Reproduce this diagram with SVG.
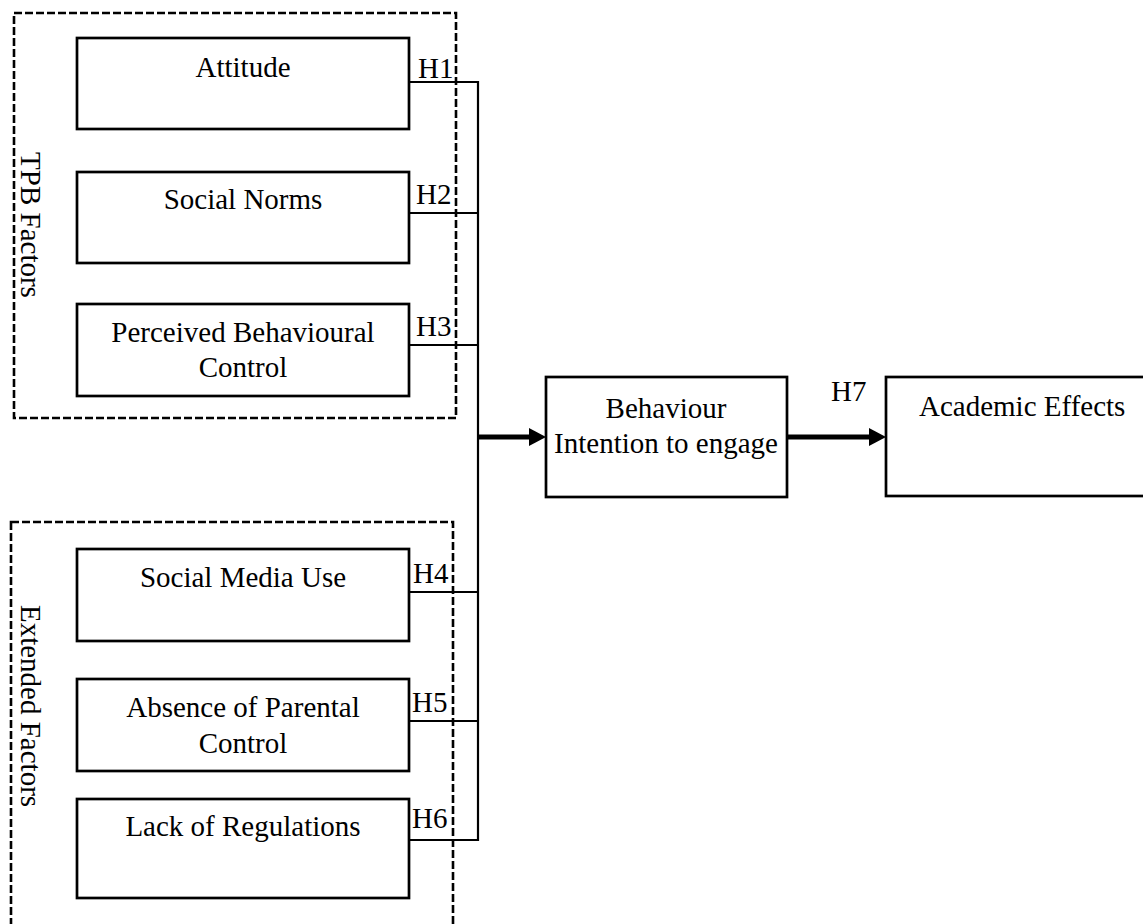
<svg xmlns="http://www.w3.org/2000/svg" width="1143" height="924" viewBox="0 0 1143 924">
<defs>
<style>
.box{fill:#fff;stroke:#000;stroke-width:2.7}
.grp{fill:none;stroke:#000;stroke-width:2.6;stroke-dasharray:8,3}
.t{font-family:"Liberation Serif","Times New Roman",serif;font-size:29px;fill:#000}
.m{text-anchor:middle}
.ln{fill:none;stroke:#000;stroke-width:2.2}
.th{fill:none;stroke:#000;stroke-width:5}
</style>
</defs>
<rect width="1143" height="924" fill="#fff"/>
<g id="group-tpb">
<rect class="grp" x="14" y="13" width="442" height="405"/>
<text class="t m" transform="translate(21,225) rotate(90)">TPB Factors</text>
</g>
<g id="group-extended">
<rect class="grp" x="11" y="522" width="442" height="420"/>
<text class="t m" transform="translate(21,706) rotate(90)">Extended Factors</text>
</g>
<g id="connectors">
<polyline class="ln" points="409,82 478,82 478,840 409,840"/>
<line class="ln" x1="409" y1="213" x2="478" y2="213"/>
<line class="ln" x1="409" y1="345" x2="478" y2="345"/>
<line class="ln" x1="409" y1="592" x2="478" y2="592"/>
<line class="ln" x1="409" y1="721" x2="478" y2="721"/>
<line class="th" x1="478" y1="437" x2="531" y2="437"/>
<polygon points="529,428 546,437 529,446" fill="#000"/>
<line class="th" x1="787" y1="437" x2="871" y2="437"/>
<polygon points="869,428 886,437 869,446" fill="#000"/>
<text class="t" x="418" y="78">H1</text>
<text class="t" x="416" y="204">H2</text>
<text class="t" x="416" y="336">H3</text>
<text class="t" x="413" y="583">H4</text>
<text class="t" x="412" y="712">H5</text>
<text class="t" x="412" y="828">H6</text>
<text class="t" x="831" y="401">H7</text>
</g>
<g id="attitude">
<rect class="box" x="77" y="38" width="332" height="91"/>
<text class="t m" x="243" y="77">Attitude</text>
</g>
<g id="social-norms">
<rect class="box" x="77" y="172" width="332" height="91"/>
<text class="t m" x="243" y="209">Social Norms</text>
</g>
<g id="pbc">
<rect class="box" x="77" y="304" width="332" height="92"/>
<text class="t m" x="243" y="342">Perceived Behavioural</text>
<text class="t m" x="243" y="377">Control</text>
</g>
<g id="social-media">
<rect class="box" x="77" y="549" width="332" height="92"/>
<text class="t m" x="243" y="587">Social Media Use</text>
</g>
<g id="parental">
<rect class="box" x="77" y="679" width="332" height="92"/>
<text class="t m" x="243" y="717">Absence of Parental</text>
<text class="t m" x="243" y="753">Control</text>
</g>
<g id="regulations">
<rect class="box" x="77" y="799" width="332" height="99"/>
<text class="t m" x="243" y="836">Lack of Regulations</text>
</g>
<g id="behaviour">
<rect class="box" x="546" y="377" width="241" height="120"/>
<text class="t m" x="666" y="418">Behaviour</text>
<text class="t m" x="666" y="453">Intention to engage</text>
</g>
<g id="academic">
<rect class="box" x="886" y="377" width="262" height="119"/>
<text class="t" x="919" y="416">Academic Effects</text>
</g>
</svg>
